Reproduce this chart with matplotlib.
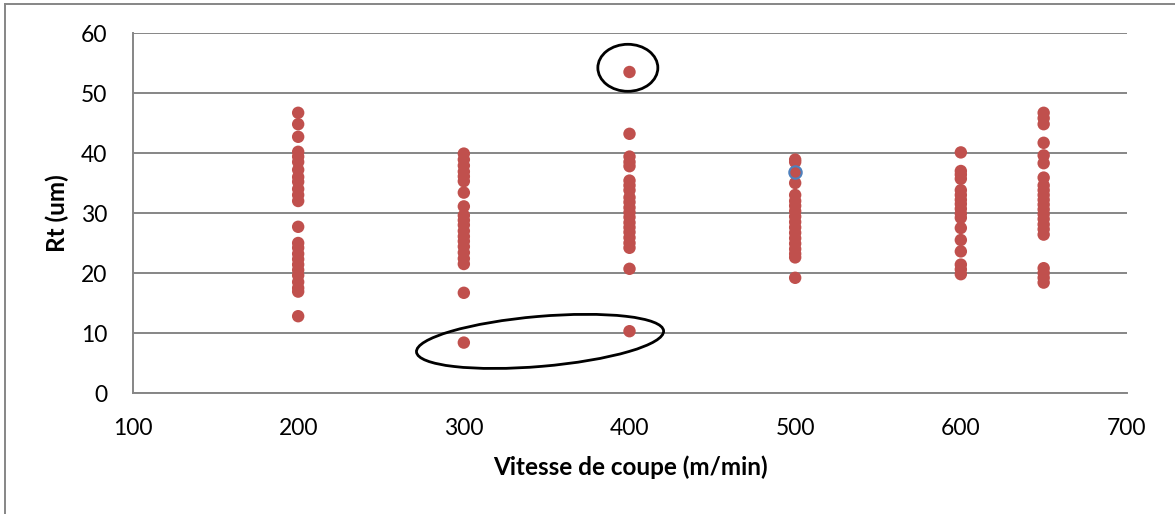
import matplotlib
matplotlib.use("Agg")
import matplotlib.pyplot as plt
from matplotlib.patches import Ellipse
from matplotlib.lines import Line2D
from matplotlib.transforms import IdentityTransform

# ---- donnees ----
v200 = [46.7, 44.8, 42.7, 40.2, 39.4, 38.5, 37.2, 36.0, 35.2, 34.0, 33.0, 32.0,
        27.7, 25.0, 24.2, 23.2, 22.3, 21.4, 20.5, 19.6, 18.5, 17.5, 16.9, 12.8]
v300 = [39.9, 38.9, 37.9, 36.9, 36.1, 35.3, 33.4, 31.1, 29.6, 28.8, 28.0, 27.0,
        26.1, 25.3, 24.4, 23.4, 22.4, 21.5, 16.7, 8.4]
v400 = [53.5, 43.2, 39.4, 38.5, 37.8, 35.4, 34.6, 33.8, 32.6, 31.8, 30.9, 30.1,
        29.3, 28.4, 27.6, 26.8, 25.9, 25.0, 24.2, 20.7, 10.3]
v500 = [38.9, 38.5, 35.0, 33.0, 32.0, 31.2, 30.3, 29.4, 28.5, 27.6, 26.7, 25.8,
        24.9, 24.0, 23.2, 22.6, 19.2]
v600 = [40.1, 37.0, 36.4, 35.7, 33.8, 33.0, 32.2, 31.5, 30.7, 29.9, 29.2, 27.5,
        25.5, 23.6, 21.4, 20.6, 19.8]
v650 = [46.7, 45.8, 44.8, 41.7, 39.6, 38.3, 35.9, 34.6, 33.8, 33.0, 32.2, 31.4,
        30.6, 29.8, 29.0, 28.1, 27.3, 26.4, 20.8, 20.0, 19.2, 18.4]
vitesses = [200, 300, 400, 500, 600, 650]
series = [v200, v300, v400, v500, v600, v650]

# point selectionne (contour bleu)
sel_x, sel_y = 500, 36.8

# zones entourees (centre en donnees)
circle_centre = (399, 54.2)
ellipse_centre = (346, 8.6)

rouge = "#C0504D"
gris = "#868686"

plt.rcParams["font.family"] = ["Lato", "DejaVu Sans"]

fig = plt.figure(figsize=(11.75, 5.14), dpi=100)
ax = fig.add_axes([132.5 / 1175, 1 - 393 / 514, 994 / 1175, 360 / 514])

for x, ys in zip(vitesses, series):
    ax.scatter([x] * len(ys), ys, s=80, color=rouge, edgecolors="none", zorder=3)
ax.scatter([sel_x], [sel_y], s=80, color=rouge, edgecolors="#4F81BD",
           linewidths=1.5, zorder=4)

ax.set_xlim(100, 700)
ax.set_ylim(0, 60)
ax.set_xticks(range(100, 701, 100))
ax.set_yticks(range(0, 61, 10))
ax.yaxis.grid(True, color=gris, linewidth=1.4)
ax.set_axisbelow(True)
for s in ["top", "right"]:
    ax.spines[s].set_visible(False)
for s in ["left", "bottom"]:
    ax.spines[s].set_color(gris)
    ax.spines[s].set_linewidth(1.4)
ax.tick_params(length=0, labelsize=16.5, pad=18)

ax.set_xlabel("Vitesse de coupe (m/min)", fontsize=17.5, fontweight="bold")
ax.set_ylabel("Rt (um)", fontsize=17.5, fontweight="bold")
# position des titres d'axes en pixels de la figure
ax.xaxis.set_label_coords(630 / 1175, 1 - 467 / 514, transform=fig.transFigure)
ax.yaxis.set_label_coords(57 / 1175, 1 - 213 / 514, transform=fig.transFigure)
ax.xaxis.label.set_va("center")
ax.yaxis.label.set_va("center")

# ellipses dessinees en pixels autour des points isoles
fig.canvas.draw()
c1 = ax.transData.transform(circle_centre)
c2 = ax.transData.transform(ellipse_centre)
ax.add_artist(Ellipse(c1, 60, 47, fill=False, color="black", linewidth=2,
                      transform=IdentityTransform(), clip_on=False))
ax.add_artist(Ellipse(c2, 248, 50, angle=4.9, fill=False, color="black",
                      linewidth=2, transform=IdentityTransform(), clip_on=False))

# cadre exterieur (gauche et haut)
fig.add_artist(Line2D([5 / 1175, 5 / 1175], [0, 1 - 4 / 514], color=gris, linewidth=1.4))
fig.add_artist(Line2D([5 / 1175, 1], [1 - 4 / 514, 1 - 4 / 514], color=gris, linewidth=1.4))

fig.savefig("out.png", dpi=100)
